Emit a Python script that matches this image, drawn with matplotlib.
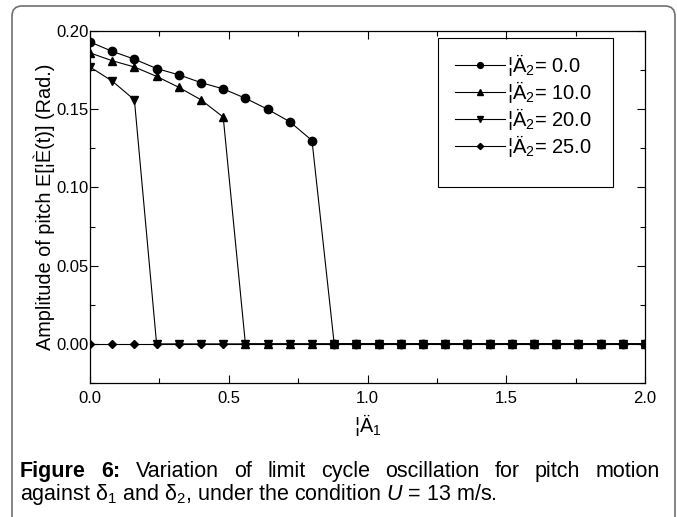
import matplotlib
matplotlib.use("Agg")
import matplotlib.pyplot as plt
import numpy as np
from matplotlib.patches import FancyBboxPatch, Rectangle
from matplotlib.transforms import IdentityTransform
from matplotlib.ticker import MultipleLocator

plt.rcParams["font.family"] = ["Liberation Sans", "DejaVu Sans"]
plt.rcParams["mathtext.fontset"] = "custom"
plt.rcParams["mathtext.rm"] = "Liberation Sans"
plt.rcParams["mathtext.it"] = "Liberation Sans:italic"
plt.rcParams["mathtext.bf"] = "Liberation Sans:bold"

# delta_1 grid
delta1 = [0.00, 0.08, 0.16, 0.24, 0.32, 0.40, 0.48, 0.56, 0.64, 0.72, 0.80, 0.88, 0.96,
          1.04, 1.12, 1.20, 1.28, 1.36, 1.44, 1.52, 1.60, 1.68, 1.76, 1.84, 1.92, 2.00]

# amplitude of pitch for each delta_2
amp_d0 = [0.193, 0.187, 0.182, 0.176, 0.172, 0.167, 0.163, 0.157, 0.150, 0.142, 0.130, 0.0, 0.0,
          0.0, 0.0, 0.0, 0.0, 0.0, 0.0, 0.0, 0.0, 0.0, 0.0, 0.0, 0.0, 0.0]
amp_d10 = [0.186, 0.181, 0.177, 0.171, 0.164, 0.156, 0.145, 0.0, 0.0, 0.0, 0.0, 0.0, 0.0,
           0.0, 0.0, 0.0, 0.0, 0.0, 0.0, 0.0, 0.0, 0.0, 0.0, 0.0, 0.0, 0.0]
amp_d20 = [0.177, 0.168, 0.156, 0.0, 0.0, 0.0, 0.0, 0.0, 0.0, 0.0, 0.0, 0.0, 0.0,
           0.0, 0.0, 0.0, 0.0, 0.0, 0.0, 0.0, 0.0, 0.0, 0.0, 0.0, 0.0, 0.0]
amp_d25 = [0.0, 0.0, 0.0, 0.0, 0.0, 0.0, 0.0, 0.0, 0.0, 0.0, 0.0, 0.0, 0.0,
           0.0, 0.0, 0.0, 0.0, 0.0, 0.0, 0.0, 0.0, 0.0, 0.0, 0.0, 0.0, 0.0]

labels = ["¦Ä$_2$= 0.0", "¦Ä$_2$= 10.0", "¦Ä$_2$= 20.0", "¦Ä$_2$= 25.0"]
markers = ["o", "^", "v", "D"]

W, H = 677, 517
fig = plt.figure(figsize=(W / 100, H / 100), dpi=100)
ax = fig.add_axes([90 / W, 1 - 383 / H, 555 / W, 352 / H])

for amp, lab, m in zip([amp_d0, amp_d10, amp_d20, amp_d25], labels, markers):
    ms = 4.5 if m == "D" else 6
    ax.plot(delta1, amp, color="black", lw=0.8, marker=m, ms=ms, label=lab)

ax.set_xlim(0, 2.0)
ax.set_ylim(-0.025, 0.2)
ax.xaxis.set_major_locator(MultipleLocator(0.5))
ax.xaxis.set_minor_locator(MultipleLocator(0.25))
ax.yaxis.set_major_locator(MultipleLocator(0.05))
ax.yaxis.set_minor_locator(MultipleLocator(0.025))
ax.xaxis.set_major_formatter(lambda v, p: "{:.1f}".format(v))
ax.yaxis.set_major_formatter(lambda v, p: "{:.2f}".format(v))
ax.tick_params(which="both", direction="in", top=True, right=True, width=0.8)
ax.tick_params(which="major", length=6, labelsize=12)
ax.tick_params(axis="y", which="major", pad=1)
ax.tick_params(axis="x", which="major", pad=6)
ax.tick_params(which="minor", length=3.5)
for s in ax.spines.values():
    s.set_linewidth(0.9)

ax.set_xlabel("¦Ä$_1$", fontsize=14.3, labelpad=4)
ax.set_ylabel("Amplitude of pitch E[¦È(t)] (Rad.)", fontsize=14.3, labelpad=1)

# legend entries without frame, box drawn separately (taller than the entries)
leg = ax.legend(loc="upper left", bbox_to_anchor=(455, H - 52),
                bbox_transform=IdentityTransform(),
                fontsize=14.5, frameon=False, handlelength=2.5, handletextpad=0.1,
                markerscale=0.7, borderpad=0, labelspacing=0.05, borderaxespad=0)
leg_box = Rectangle((438, H - 187), 175, 149, transform=IdentityTransform(),
                    fill=False, edgecolor="black", lw=0.8, zorder=5)
fig.patches.append(leg_box)

# rounded frame around the whole figure, cut at the bottom
frame = FancyBboxPatch((12, -20), 663, 531, boxstyle="round,pad=0,rounding_size=10",
                       transform=IdentityTransform(), fill=False, edgecolor="#707070",
                       lw=1.2)
fig.patches.append(frame)

# caption, first line justified
renderer = fig.canvas.get_renderer()
words = [("Figure", "bold"), ("6:", "bold"), ("Variation", "normal"), ("of", "normal"),
         ("limit", "normal"), ("cycle", "normal"), ("oscillation", "normal"), ("for", "normal"),
         ("pitch", "normal"), ("motion", "normal")]
x_left, x_right = 20 / W, 660 / W
texts = [fig.text(0, 1 - 477 / H, w, fontsize=15.5, fontweight=wt, va="baseline")
         for w, wt in words]
widths = [t.get_window_extent(renderer).width / W for t in texts]
gap = (x_right - x_left - sum(widths)) / (len(words) - 1)
xpos = x_left
for t, w in zip(texts, widths):
    t.set_x(xpos)
    xpos += w + gap

fig.text(x_left, 1 - 500 / H,
         "against δ$_1$ and δ$_2$, under the condition $U$ = 13 m/s.",
         fontsize=15.5, va="baseline")

fig.savefig("out.png", dpi=100)
